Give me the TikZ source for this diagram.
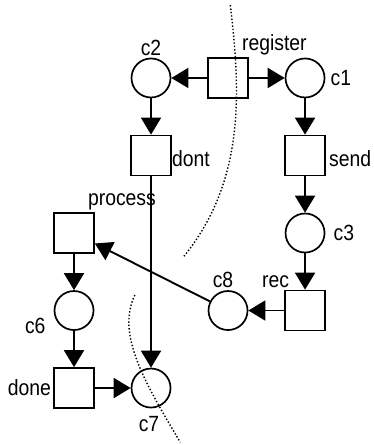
\documentclass[tikz,border=0pt]{standalone}
\usepackage{fontspec}
\setmainfont{Liberation Sans}[FakeStretch=0.88]
\usetikzlibrary{arrows.meta, positioning}

\tikzset{
  condition/.style={circle, draw, line width=1.7pt, minimum size=39pt, inner sep=0pt},
  event/.style={rectangle, draw, line width=1.7pt, minimum size=40pt, inner sep=0pt},
  flow/.style={line width=1.9pt, -{Triangle[length=17pt, width=20pt]}},
  cut/.style={line width=1.4pt, dotted},
  every label/.style={font=\fontsize{22}{25}\selectfont, inner sep=2pt}
}

\begin{document}
\begin{tikzpicture}[x=77pt, y=-77.5pt]
\useasboundingbox (-0.961,-1.006) rectangle (3.883,4.735);

% Top row
\node[event, label={[anchor=south west, xshift=-9pt]north east:register}] (register) at (2,0) {};
\node[condition, label=above:c2] (c2) at (1,0) {};
\node[condition, label={[label distance=3pt]right:c1}] (c1) at (3,0) {};

% Middle
\node[event, label={[xshift=-2pt, yshift=-3pt]right:dont}] (dont) at (1,1) {};
\node[event, label={[xshift=1pt, yshift=-3pt]right:send}] (send) at (3,1) {};
\node[condition, label={[label distance=6pt]right:c3}] (c3) at (3,2) {};
\node[event, label={[anchor=south west, xshift=-9pt]north east:process}] (process) at (0,2) {};
\node[event, label={[anchor=south east, xshift=7pt]north west:rec}] (rec) at (3,3) {};
\node[condition, label={[xshift=-5pt]above:c8}] (c8) at (2,3) {};

% Bottom left
\node[condition, label={[xshift=-6pt, yshift=-15pt]left:c6}] (c6) at (0,3) {};
\node[event, label=left:done] (done) at (0,4) {};
\node[condition, label={[label distance=6pt, xshift=-2pt]below:c7}] (c7) at (1,4) {};

\draw[flow] (register) -- (c2);
\draw[flow] (register) -- (c1);
\draw[flow] (c2) -- (dont);
\draw[flow] (c1) -- (send);
\draw[flow] (send) -- (c3);
\draw[flow] (c3) -- (rec);
\draw[flow] (rec) -- (c8);
\draw[flow] (c8) -- (process);
\draw[flow] (process) -- (c6);
\draw[flow] (c6) -- (done);
\draw[flow] (done) -- (c7);
\draw[flow] (dont) -- (c7);

% Cuts
\draw[cut] (2.03,-0.94) .. controls (2.15,0.1) and (2.25,1.3) .. (1.42,2.31);
\draw[cut] (0.79,2.8) .. controls (0.55,3.3) and (0.9,3.9) .. (1.38,4.7);
\end{tikzpicture}
\end{document}
